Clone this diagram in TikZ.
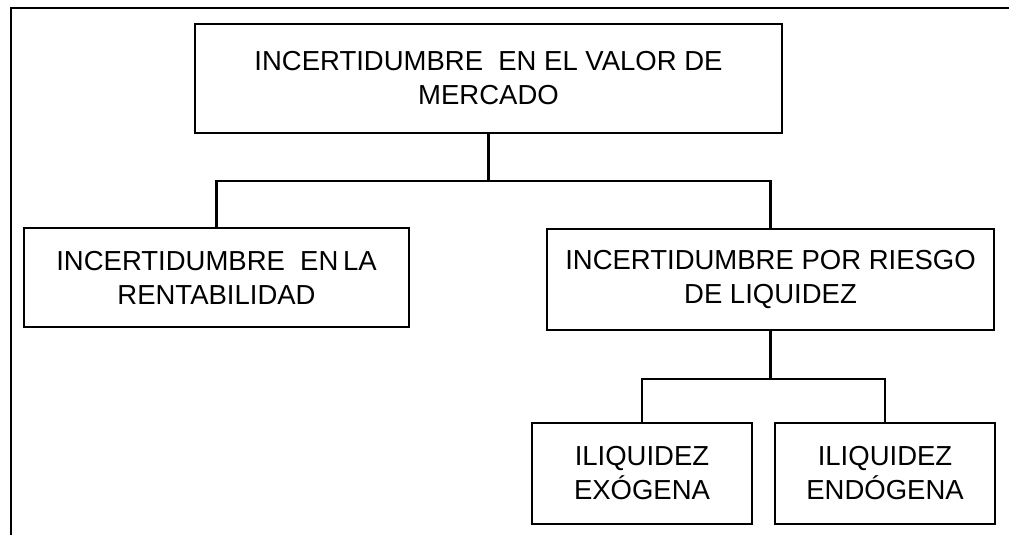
\documentclass[tikz,border=0pt]{standalone}
\usepackage{fontspec}
\setmainfont{Liberation Sans}
\tikzset{caja/.style={draw,line width=2.2pt,align=center,inner sep=0pt,
    font=\fontsize{27.5}{34}\selectfont},
  linea/.style={line width=2.2pt}}
\begin{document}
\begin{tikzpicture}[x=1pt,y=-1pt]
			\useasboundingbox(0,0) rectangle (1009,535);
			\draw[line width=2.8pt](11,535)--(11,8)--(1009,8);
			\node[caja,minimum width=587,minimum height=109](top) at(488.5,78.5){INCERTIDUMBRE\ \ EN EL VALOR DE\\MERCADO};
			\node[caja,minimum width=385,minimum height=99](rent) at(216.5,277.5){INCERTIDUMBRE\ \ EN\,LA\\RENTABILIDAD};
			\node[caja,minimum width=447,minimum height=101](liq) at(770.5,279.5){INCERTIDUMBRE POR RIESGO\\DE LIQUIDEZ};
			\node[caja,minimum width=220,minimum height=101](exo) at(642,473.5){ILIQUIDEZ\\EXÓGENA};
			\node[caja,minimum width=220,minimum height=101](endo) at(885,473.5){ILIQUIDEZ\\ENDÓGENA};
			\draw[linea](top.south)--++(0,47) coordinate(b1);
			\draw[linea](rent.north)|-(b1)-|(liq.north);
			\draw[linea](liq.south)--++(0,48) coordinate(b2);
			\draw[linea](exo.north)|-(b2)-|(endo.north);
			\end{tikzpicture}
\end{document}
